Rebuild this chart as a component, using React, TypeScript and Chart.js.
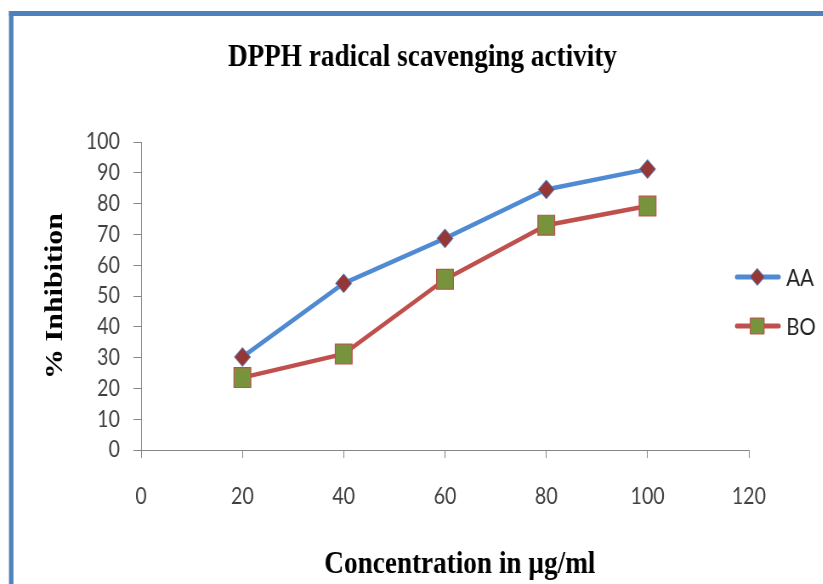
import React, { useEffect, useRef } from 'react';
import { Chart, registerables } from 'chart.js';

Chart.register(...registerables);

// ---- data ----
const concentrations = [20, 40, 60, 80, 100];
const aaValues = [30.2, 54.1, 68.7, 84.6, 91.2];
const boValues = [23.5, 31.2, 55.4, 73.0, 79.2];
const seriesLabels = ['AA', 'BO'];
const chartTitle = 'DPPH radical scavenging activity';
const xAxisTitle = 'Concentration in µg/ml';
const yAxisTitle = '% Inhibition';
const xTickRange = [0, 120, 20]; // min, max, step
const yTickRange = [0, 100, 10];

// ---- layout (canvas space; canvas is horizontally condensed by SX) ----
const SX = 0.85;
const CW = 968;
const CH = 584;

const decorPlugin = {
  id: 'decor',
  beforeDraw(chart: any) {
    const ctx = chart.ctx;
    ctx.save();
    ctx.fillStyle = '#ffffff';
    ctx.fillRect(0, 0, chart.width, chart.height);
    ctx.fillStyle = '#4F81BD';
    ctx.fillRect(10.5, 11, 5.3, chart.height);
    ctx.fillRect(10.5, 11, chart.width, 5);
    ctx.restore();
  },
  afterDraw(chart: any) {
    const ctx = chart.ctx;
    ctx.save();
    ctx.fillStyle = '#000000';
    ctx.textAlign = 'center';
    ctx.textBaseline = 'alphabetic';
    ctx.font = 'bold 32px "Liberation Serif"';
    ctx.fillText(chartTitle, 497, 66);
    ctx.fillText(xAxisTitle, 541, 573);
    ctx.save();
    ctx.translate(73, 296);
    ctx.rotate(-Math.PI / 2);
    ctx.font = 'bold 30px "Liberation Serif"';
    ctx.fillText(yAxisTitle, 0, 0);
    ctx.restore();

    // legend
    const legendY = [277, 326];
    chart.data.datasets.forEach((ds: any, i: number) => {
      const y = legendY[i];
      ctx.strokeStyle = ds.borderColor;
      ctx.lineWidth = 5;
      ctx.lineCap = 'round';
      ctx.beginPath();
      ctx.moveTo(867, y);
      ctx.lineTo(916, y);
      ctx.stroke();
      ctx.fillStyle = ds.pointBackgroundColor;
      ctx.strokeStyle = ds.pointBorderColor;
      ctx.lineWidth = 1;
      ctx.beginPath();
      if (ds.pointStyle === 'rectRot') {
        const r = 8.5;
        ctx.moveTo(891, y - r);
        ctx.lineTo(891 + r, y);
        ctx.lineTo(891, y + r);
        ctx.lineTo(891 - r, y);
        ctx.closePath();
      } else {
        const h = 8;
        ctx.rect(891 - h, y - h, 2 * h, 2 * h);
      }
      ctx.fill();
      ctx.stroke();
      ctx.fillStyle = '#222222';
      ctx.font = '24px Lato';
      ctx.textAlign = 'left';
      ctx.textBaseline = 'middle';
      ctx.fillText(ds.label, 925, y + 1);
    });
    ctx.restore();
  },
};

export default function App() {
  const canvasRef = useRef<HTMLCanvasElement | null>(null);

  useEffect(() => {
    const canvas = canvasRef.current;
    if (!canvas) return;
    const tickFont = { family: 'Lato', size: 23 };
    const chart = new Chart(canvas, {
      type: 'line',
      data: {
        datasets: [
          {
            label: seriesLabels[0],
            data: concentrations.map((x, i) => ({ x, y: aaValues[i] })),
            borderColor: '#4F8AD2',
            borderWidth: 4.5,
            pointStyle: 'rectRot',
            pointRadius: 9.5,
            pointHoverRadius: 9.5,
            pointBackgroundColor: '#953735',
            pointBorderColor: '#4F8AD2',
            pointBorderWidth: 1,
            tension: 0,
          },
          {
            label: seriesLabels[1],
            data: concentrations.map((x, i) => ({ x, y: boValues[i] })),
            borderColor: '#C0504D',
            borderWidth: 4.5,
            pointStyle: 'rect',
            pointRadius: 14,
            pointHoverRadius: 14,
            pointBackgroundColor: '#77933C',
            pointBorderColor: '#C0504D',
            pointBorderWidth: 1.2,
            tension: 0,
          },
        ],
      },
      options: {
        animation: false,
        responsive: true,
        maintainAspectRatio: false,
        events: [],
        layout: { padding: { left: 0, top: 142, right: 87, bottom: 0 } },
        plugins: {
          legend: { display: false },
          title: { display: false },
          tooltip: { enabled: false },
        },
        scales: {
          x: {
            type: 'linear',
            min: xTickRange[0],
            max: xTickRange[1],
            ticks: { stepSize: xTickRange[2], autoSkip: false, maxRotation: 0, color: '#404040', font: tickFont, padding: 25 },
            grid: { drawOnChartArea: false, drawTicks: true, tickLength: 8, color: '#868686' },
            border: { display: true, color: '#868686', width: 1 },
            afterFit: (s: any) => {
              s.height = 134;
            },
          },
          y: {
            type: 'linear',
            min: yTickRange[0],
            max: yTickRange[1],
            ticks: { stepSize: yTickRange[2], autoSkip: false, color: '#404040', font: tickFont, padding: 16 },
            grid: { drawOnChartArea: false, drawTicks: true, tickLength: 9, color: '#868686' },
            border: { display: true, color: '#868686', width: 1 },
            afterFit: (s: any) => {
              s.width = 166;
            },
          },
        },
      },
      plugins: [decorPlugin],
    } as any);
    return () => chart.destroy();
  }, []);

  return (
    <div style={{ position: 'absolute', left: 0, top: 0, width: 823, height: 584, overflow: 'hidden', background: '#fff' }}>
      <div style={{ width: CW, height: CH, transform: `scaleX(${SX})`, transformOrigin: '0 0' }}>
        <canvas ref={canvasRef} />
      </div>
    </div>
  );
}
